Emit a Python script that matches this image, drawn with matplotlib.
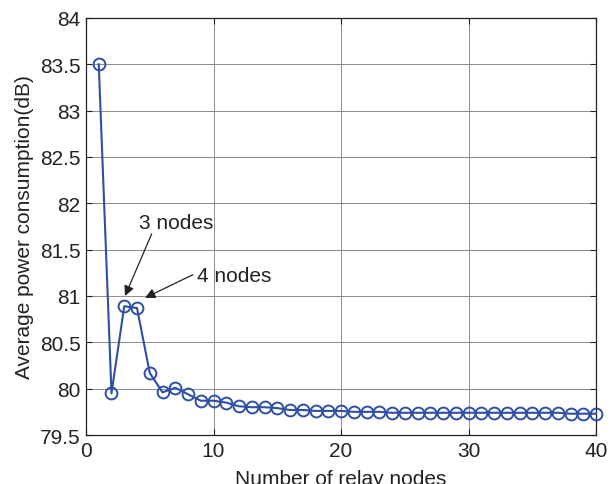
import matplotlib
matplotlib.use('Agg')
import matplotlib.pyplot as plt
import numpy as np

# relay nodes vs. average power consumption (dB)
relay_nodes = np.arange(1, 41)
power_db = [83.50, 79.95, 80.89, 80.87, 80.17, 79.96, 80.01, 79.94, 79.87, 79.87,
            79.85, 79.81, 79.80, 79.80, 79.79, 79.77, 79.77, 79.76, 79.76, 79.76,
            79.75, 79.75, 79.75, 79.74, 79.74, 79.74, 79.74, 79.74, 79.74, 79.74,
            79.74, 79.74, 79.74, 79.74, 79.74, 79.74, 79.74, 79.73, 79.73, 79.73]

x_ticks = [0, 10, 20, 30, 40]
y_ticks = [79.5, 80, 80.5, 81, 81.5, 82, 82.5, 83, 83.5, 84]
y_ticklabels = ['79.5', '80', '80.5', '81', '81.5', '82', '82.5', '83', '83.5', '84']

plt.rcParams['font.family'] = ['Liberation Sans', 'DejaVu Sans']
plt.rcParams['text.color'] = '#222222'

FS = 15

fig = plt.figure(figsize=(6.16, 4.85), dpi=100)
ax = fig.add_axes([0.1396, 0.101, 0.828, 0.860])

line_color = '#2f4fa6'
ax.plot(relay_nodes, power_db, color=line_color, linewidth=1.5,
        marker='o', markersize=8.5, markerfacecolor='none',
        markeredgecolor=line_color, markeredgewidth=1.4, clip_on=False, zorder=3)

ax.set_xlim(0, 40)
ax.set_ylim(79.5, 84)
ax.set_xticks(x_ticks)
ax.set_yticks(y_ticks)
ax.set_yticklabels(y_ticklabels)
ax.grid(True, color='#8c8c8c', linestyle='-', linewidth=0.7)
ax.tick_params(direction='in', top=True, right=True, labelsize=FS,
               colors='#222222', length=4, width=0.8, pad=4)
for sp in ax.spines.values():
    sp.set_color('#222222')
    sp.set_linewidth(0.9)

ax.set_xlabel('Number of relay nodes', fontsize=FS, labelpad=6.5, color='#222222')
ax.set_ylabel('Average power consumption(dB)', fontsize=FS, labelpad=4, color='#222222')

# annotations
arrow = dict(arrowstyle='-|>', color='#222222', lw=0.9, mutation_scale=15,
             shrinkA=0, shrinkB=0)
ax.annotate('', xy=(3.06, 81.0), xytext=(5.15, 81.67), arrowprops=arrow)
ax.annotate('', xy=(4.63, 80.98), xytext=(8.39, 81.23), arrowprops=arrow)
ax.text(4.16, 81.79, '3 nodes', fontsize=FS, va='center', ha='left')
ax.text(8.68, 81.22, '4 nodes', fontsize=FS, va='center', ha='left')

fig.savefig('out.png', dpi=100)
